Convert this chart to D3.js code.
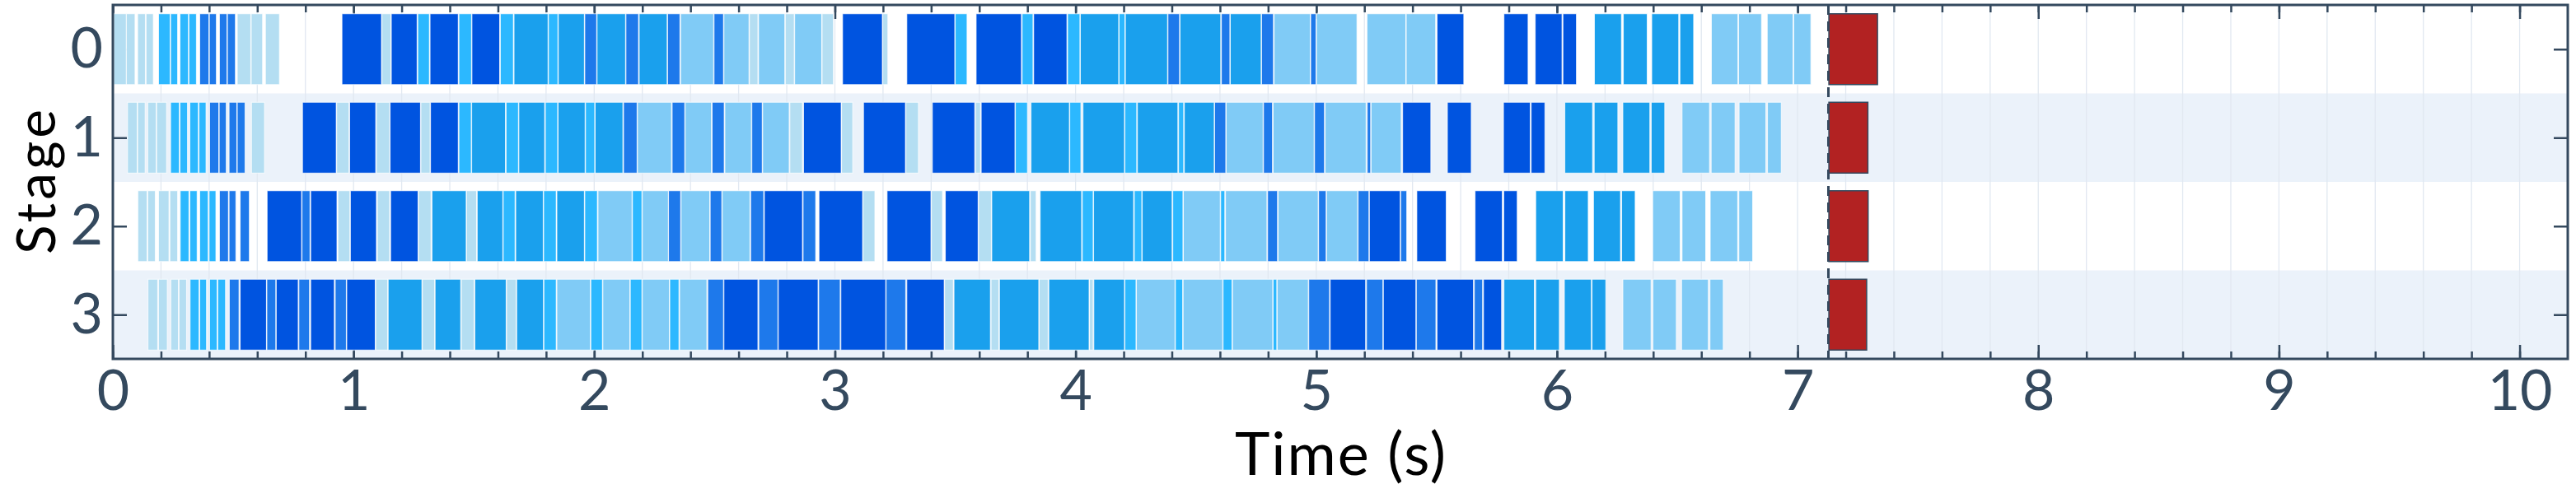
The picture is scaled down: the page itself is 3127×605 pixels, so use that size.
<!DOCTYPE html>
<html>
<head>
<meta charset="utf-8">
<script src="https://cdn.jsdelivr.net/npm/d3@7"></script>
<style>
  body { margin: 0; background: #fff; }
  svg text { font-family: Lato, "Open Sans", sans-serif; }
</style>
</head>
<body>
<div id="chart"></div>
<script>
// Stages (rows) and the time window
const stages = [0, 1, 2, 3];
const timeDomain = [0, 10.2];
const majorTicks = [0, 1, 2, 3, 4, 5, 6, 7, 8, 9, 10];
const minorTicks = d3.range(0, 51).map(i => +(i * 0.2).toFixed(1));

// Colour key for each kind of block
const kindColors = {
    L: "#b4def2",
    C: "#2cb8ff",
    M: "#1aa0ed",
    B: "#1e79eb",
    D: "#0054e0",
    S: "#80cbf6"
};

// [start, end, kind] in seconds
const stage0 = [
    [0.003,0.056,"L"],[0.056,0.092,"L"],[0.103,0.135,"L"],[0.138,0.168,"L"],
    [0.190,0.238,"C"],[0.240,0.269,"C"],[0.279,0.314,"C"],[0.316,0.347,"C"],
    [0.361,0.399,"B"],[0.401,0.430,"B"],[0.443,0.474,"B"],[0.476,0.509,"B"],
    [0.517,0.573,"L"],[0.575,0.622,"L"],[0.634,0.692,"L"],
    [0.952,1.116,"D"],[1.118,1.155,"L"],[1.157,1.264,"D"],[1.267,1.315,"C"],[1.318,1.435,"D"],[1.438,1.490,"C"],[1.492,1.607,"D"],[1.610,1.664,"C"],
    [1.667,1.808,"M"],[1.810,1.849,"C"],[1.851,1.959,"M"],[1.961,2.010,"B"],[2.012,2.130,"M"],[2.132,2.184,"B"],[2.187,2.303,"M"],[2.305,2.356,"B"],
    [2.359,2.496,"S"],[2.498,2.537,"B"],[2.539,2.643,"S"],[2.645,2.680,"L"],[2.683,2.792,"S"],[2.794,2.831,"L"],[2.833,2.945,"S"],[2.947,2.994,"L"],
    [3.032,3.197,"D"],[3.199,3.220,"L"],[3.299,3.498,"D"],[3.500,3.549,"C"],[3.587,3.775,"D"],[3.778,3.823,"C"],[3.826,3.964,"D"],[3.967,4.018,"C"],
    [4.020,4.179,"M"],[4.181,4.205,"C"],[4.207,4.382,"M"],[4.384,4.432,"B"],[4.434,4.603,"M"],[4.606,4.641,"B"],[4.643,4.771,"M"],[4.773,4.822,"B"],
    [4.825,4.975,"S"],[4.977,4.999,"B"],[5.001,5.169,"S"],[5.211,5.372,"S"],[5.374,5.496,"S"],[5.502,5.613,"D"],
    [5.780,5.880,"D"],[5.910,6.021,"D"],[6.025,6.081,"D"],
    [6.156,6.268,"M"],[6.276,6.375,"M"],[6.394,6.506,"M"],[6.511,6.568,"M"],
    [6.642,6.752,"S"],[6.755,6.850,"S"],[6.874,6.981,"S"],[6.984,7.055,"S"]
];

const stage1 = [
    [0.061,0.101,"L"],[0.103,0.134,"L"],[0.145,0.180,"L"],[0.182,0.223,"L"],
    [0.240,0.276,"C"],[0.279,0.310,"C"],[0.320,0.355,"C"],[0.358,0.387,"C"],
    [0.402,0.440,"B"],[0.442,0.471,"B"],[0.483,0.515,"B"],[0.517,0.549,"B"],
    [0.576,0.630,"L"],
    [0.788,0.928,"D"],[0.930,0.981,"L"],[0.984,1.092,"D"],[1.095,1.150,"L"],[1.152,1.278,"D"],[1.280,1.318,"L"],[1.320,1.435,"D"],
    [1.438,1.489,"C"],[1.491,1.631,"M"],[1.634,1.685,"C"],[1.687,1.794,"M"],[1.797,1.848,"C"],[1.850,1.962,"M"],[1.964,2.002,"C"],[2.004,2.119,"M"],
    [2.122,2.178,"B"],[2.180,2.321,"S"],[2.324,2.376,"B"],[2.378,2.487,"S"],[2.490,2.540,"B"],[2.543,2.653,"S"],[2.655,2.698,"B"],[2.700,2.810,"S"],[2.813,2.865,"L"],
    [2.870,3.026,"D"],[3.028,3.074,"L"],[3.119,3.293,"D"],[3.295,3.347,"L"],[3.405,3.581,"D"],[3.584,3.605,"L"],[3.608,3.748,"D"],[3.750,3.800,"C"],
    [3.815,3.974,"M"],[3.976,4.022,"C"],[4.031,4.203,"M"],[4.205,4.254,"C"],[4.257,4.425,"M"],[4.428,4.449,"C"],[4.452,4.576,"M"],
    [4.578,4.624,"B"],[4.626,4.779,"S"],[4.781,4.818,"B"],[4.821,4.991,"S"],[4.993,5.034,"B"],[5.037,5.207,"S"],[5.212,5.226,"B"],[5.228,5.353,"S"],
    [5.359,5.476,"D"],[5.545,5.644,"D"],[5.778,5.889,"D"],[5.893,5.950,"D"],
    [6.033,6.148,"M"],[6.155,6.253,"M"],[6.274,6.386,"M"],[6.392,6.448,"M"],
    [6.520,6.634,"S"],[6.641,6.740,"S"],[6.757,6.868,"S"],[6.875,6.932,"S"]
];

const stage2 = [
    [0.104,0.142,"L"],[0.145,0.176,"L"],[0.190,0.233,"L"],[0.237,0.269,"L"],
    [0.280,0.316,"C"],[0.320,0.350,"C"],[0.361,0.396,"C"],[0.400,0.428,"C"],
    [0.443,0.480,"B"],[0.483,0.511,"B"],[0.529,0.567,"B"],
    [0.641,0.784,"D"],[0.786,0.819,"B"],[0.822,0.931,"D"],[0.935,0.985,"L"],[0.987,1.095,"D"],[1.099,1.150,"L"],[1.154,1.268,"D"],[1.270,1.322,"L"],
    [1.326,1.468,"M"],[1.470,1.511,"L"],[1.514,1.620,"M"],[1.622,1.671,"C"],[1.674,1.788,"M"],[1.790,1.842,"C"],[1.845,1.959,"M"],[1.961,2.013,"C"],
    [2.016,2.157,"S"],[2.159,2.198,"C"],[2.200,2.308,"S"],[2.309,2.359,"B"],[2.361,2.480,"S"],[2.482,2.530,"B"],[2.532,2.647,"S"],[2.650,2.704,"B"],
    [2.707,2.865,"D"],[2.868,2.920,"B"],[2.934,3.115,"D"],[3.117,3.166,"L"],[3.217,3.399,"D"],[3.401,3.447,"L"],[3.459,3.595,"D"],[3.597,3.650,"L"],
    [3.652,3.809,"M"],[3.812,3.836,"L"],[3.853,4.025,"M"],[4.028,4.073,"C"],[4.075,4.241,"M"],[4.244,4.275,"C"],[4.277,4.401,"M"],[4.404,4.446,"C"],
    [4.448,4.601,"S"],[4.603,4.620,"C"],[4.623,4.795,"S"],[4.798,4.839,"B"],[4.842,5.008,"S"],[5.010,5.041,"B"],[5.043,5.172,"S"],[5.174,5.219,"B"],
    [5.221,5.349,"D"],[5.351,5.376,"B"],[5.418,5.540,"D"],[5.660,5.773,"D"],[5.779,5.835,"D"],
    [5.912,6.026,"M"],[6.033,6.130,"M"],[6.152,6.264,"M"],[6.269,6.325,"M"],
    [6.398,6.512,"S"],[6.520,6.618,"S"],[6.637,6.751,"S"],[6.756,6.813,"S"]
];

const stage3 = [
    [0.146,0.186,"L"],[0.190,0.226,"L"],[0.241,0.272,"L"],[0.275,0.306,"L"],
    [0.321,0.358,"C"],[0.361,0.389,"C"],[0.402,0.433,"C"],[0.436,0.468,"C"],
    [0.484,0.524,"B"],[0.529,0.638,"D"],[0.640,0.677,"B"],[0.679,0.770,"D"],[0.773,0.817,"B"],[0.822,0.920,"D"],[0.924,0.970,"B"],[0.972,1.090,"D"],
    [1.092,1.142,"L"],[1.144,1.284,"M"],[1.286,1.337,"L"],[1.339,1.445,"M"],[1.448,1.501,"L"],[1.504,1.634,"M"],[1.636,1.676,"L"],[1.678,1.789,"M"],
    [1.791,1.842,"C"],[1.845,1.984,"S"],[1.986,2.034,"C"],[2.036,2.148,"S"],[2.150,2.198,"C"],[2.200,2.312,"S"],[2.314,2.352,"C"],[2.355,2.468,"S"],
    [2.472,2.537,"B"],[2.539,2.680,"D"],[2.684,2.763,"B"],[2.765,2.930,"D"],[2.933,3.022,"B"],[3.025,3.211,"D"],[3.213,3.294,"B"],[3.299,3.454,"D"],
    [3.456,3.492,"L"],[3.495,3.646,"M"],[3.649,3.681,"L"],[3.684,3.847,"M"],[3.849,3.886,"L"],[3.889,4.056,"M"],[4.058,4.073,"L"],[4.076,4.203,"M"],
    [4.205,4.251,"C"],[4.253,4.413,"S"],[4.415,4.445,"C"],[4.447,4.611,"S"],[4.613,4.650,"C"],[4.652,4.819,"S"],[4.821,4.836,"C"],[4.838,4.967,"S"],
    [4.969,5.055,"B"],[5.058,5.205,"D"],[5.209,5.277,"B"],[5.279,5.414,"D"],[5.416,5.497,"B"],[5.502,5.653,"D"],[5.657,5.691,"B"],[5.695,5.770,"D"],
    [5.780,5.906,"M"],[5.912,6.010,"M"],[6.031,6.143,"M"],[6.146,6.203,"M"],
    [6.274,6.391,"S"],[6.399,6.496,"S"],[6.518,6.629,"S"],[6.636,6.691,"S"]
];

// Final red block per stage [start, end]
const finalBlocks = [[7.130,7.332],[7.130,7.292],[7.130,7.293],[7.130,7.287]];
const cutoffTime = 7.128;

const stageRows = [stage0, stage1, stage2, stage3];

// Canvas
const width = 3127, height = 605;
const margin = {top: 6, right: 10, bottom: 169, left: 137};
const textColor = "#34495e";

const svg = d3.select("#chart").append("svg")
    .attr("width", width)
    .attr("height", height);

const x = d3.scaleLinear().domain(timeDomain).range([margin.left, width - margin.right]);
const y = d3.scaleLinear().domain([-0.5, 3.5]).range([margin.top, height - margin.bottom]);

const plotBottom = y(3.5), plotTop = y(-0.5);

// Alternate row shading
svg.append("g").selectAll("rect")
    .data(stages.filter(s => s % 2 === 1))
    .join("rect")
    .attr("x", x(timeDomain[0]))
    .attr("width", x(timeDomain[1]) - x(timeDomain[0]))
    .attr("y", s => y(s - 0.5))
    .attr("height", s => y(s + 0.5) - y(s - 0.5))
    .attr("fill", "#ebf2fa");

// Vertical grid lines
svg.append("g").selectAll("line")
    .data(minorTicks)
    .join("line")
    .attr("x1", d => x(d)).attr("x2", d => x(d))
    .attr("y1", plotTop).attr("y2", plotBottom)
    .attr("stroke", "#e1e8f1")
    .attr("stroke-width", 1.3);

// Axes (ticks pointing inward)
function styleAxis(g) {
    g.select(".domain").remove();
    g.selectAll(".tick line").attr("stroke", textColor).attr("stroke-width", 2.5);
    g.selectAll(".tick text").attr("fill", textColor).style("font-size", "68px");
}

svg.append("g").attr("transform", `translate(0,${plotBottom})`)
    .call(d3.axisBottom(x).tickValues(minorTicks).tickSize(-9).tickFormat(""))
    .call(styleAxis);
svg.append("g").attr("transform", `translate(0,${plotBottom})`)
    .call(d3.axisBottom(x).tickValues(majorTicks).tickSize(-17).tickPadding(14).tickFormat(d3.format("d")))
    .call(styleAxis);
svg.append("g").attr("transform", `translate(0,${plotTop})`)
    .call(d3.axisTop(x).tickValues(minorTicks).tickSize(-9).tickFormat(""))
    .call(styleAxis);
svg.append("g").attr("transform", `translate(0,${plotTop})`)
    .call(d3.axisTop(x).tickValues(majorTicks).tickSize(-17).tickFormat(""))
    .call(styleAxis);
svg.append("g").attr("transform", `translate(${x(timeDomain[0])},0)`)
    .call(d3.axisLeft(y).tickValues(stages).tickSize(-17).tickPadding(12).tickFormat(d3.format("d")))
    .call(styleAxis);
svg.append("g").attr("transform", `translate(${x(timeDomain[1])},0)`)
    .call(d3.axisRight(y).tickValues(stages).tickSize(-17).tickFormat(""))
    .call(styleAxis);

// Blocks
const blocks = svg.append("g");
stageRows.forEach((row, s) => {
    blocks.append("g").selectAll("rect")
        .data(row)
        .join("rect")
        .attr("x", d => x(d[0]))
        .attr("width", d => x(d[1]) - x(d[0]))
        .attr("y", y(s - 0.4))
        .attr("height", y(s + 0.4) - y(s - 0.4))
        .attr("fill", d => kindColors[d[2]])
        .attr("stroke", "#ffffff")
        .attr("stroke-opacity", 0.75)
        .attr("stroke-width", 1);
});

blocks.append("g").selectAll("rect")
    .data(finalBlocks)
    .join("rect")
    .attr("x", d => x(d[0]))
    .attr("width", d => x(d[1]) - x(d[0]))
    .attr("y", (d, i) => y(i - 0.4))
    .attr("height", (d, i) => y(i + 0.4) - y(i - 0.4))
    .attr("fill", "#b22222")
    .attr("stroke", textColor)
    .attr("stroke-width", 1.5);

// Dashed cut-off line
svg.append("line")
    .attr("x1", x(cutoffTime)).attr("x2", x(cutoffTime))
    .attr("y1", plotTop).attr("y2", plotBottom)
    .attr("stroke", textColor)
    .attr("stroke-width", 3)
    .attr("stroke-dasharray", "12,8");

// Frame
svg.append("rect")
    .attr("x", x(timeDomain[0]))
    .attr("y", plotTop)
    .attr("width", x(timeDomain[1]) - x(timeDomain[0]))
    .attr("height", plotBottom - plotTop)
    .attr("fill", "none")
    .attr("stroke", textColor)
    .attr("stroke-width", 3);

// Axis titles (stretched a little to the reference's width)
svg.append("text")
    .attr("x", (x(timeDomain[0]) + x(timeDomain[1])) / 2)
    .attr("y", 577)
    .attr("text-anchor", "middle")
    .attr("textLength", 256)
    .attr("lengthAdjust", "spacing")
    .style("font-size", "72px")
    .attr("fill", "#000")
    .text("Time (s)");

svg.append("text")
    .attr("transform", `translate(67,${(plotTop + plotBottom) / 2}) rotate(-90)`)
    .attr("text-anchor", "middle")
    .attr("textLength", 176)
    .attr("lengthAdjust", "spacing")
    .style("font-size", "66px")
    .attr("fill", "#000")
    .text("Stage");
</script>
</body>
</html>
